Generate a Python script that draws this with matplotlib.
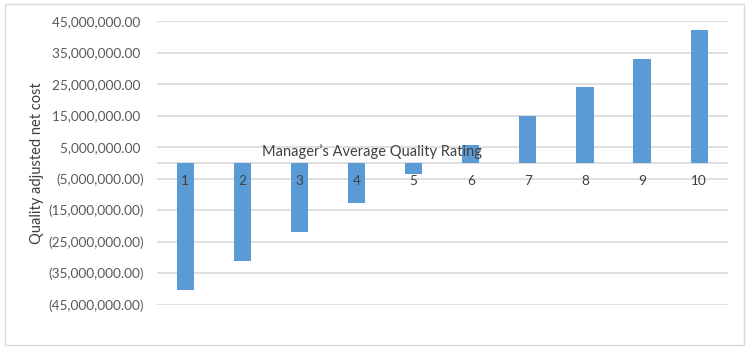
import matplotlib
matplotlib.use("Agg")
import matplotlib.pyplot as plt
from matplotlib.patches import Rectangle
from matplotlib.ticker import FuncFormatter

categories = ["1", "2", "3", "4", "5", "6", "7", "8", "9", "10"]
values = [-40.2e6, -31.1e6, -21.9e6, -12.7e6, -3.5e6, 5.7e6, 15.0e6, 24.0e6, 33.0e6, 42.3e6]
yticks = [-45e6, -35e6, -25e6, -15e6, -5e6, 5e6, 15e6, 25e6, 35e6, 45e6]
xlabel = "Manager\u2019s Average Quality Rating"
ylabel = "Quality adjusted net cost"

W, H = 750, 352
plt.rcParams['font.family'] = ['Lato', 'DejaVu Sans']
fig = plt.figure(figsize=(W / 100, H / 100), dpi=100)

def px(x, y):
    return x / W, 1 - y / H

left, top = px(156.7, 21)
right, bottom = px(727.7, 304.7)
ax = fig.add_axes([left, bottom, right - left, top - bottom])

xs = list(range(1, len(categories) + 1))
ax.bar(xs, values, width=0.30, color="#5B9BD5", zorder=3)

ax.set_xlim(0.5, len(categories) + 0.5)
ax.set_ylim(-45e6, 45e6)
ax.set_yticks(yticks)

def fmt(v, pos):
    if v < 0:
        return "({:,.2f})".format(-v)
    return "{:,.2f} ".format(v)

ax.yaxis.set_major_formatter(FuncFormatter(fmt))
ax.tick_params(axis='y', length=0, pad=9, labelsize=9.8, labelcolor="#595959")
ax.set_xticks([])
ax.grid(axis='y', color="#D9D9D9", lw=1.2, zorder=0)
ax.axhline(0, color="#D9D9D9", lw=1.2, zorder=1)
for s in ax.spines.values():
    s.set_visible(False)

for x, c in zip(xs, categories):
    ax.annotate(c, (x, 0), xytext=(0, -13.3), textcoords='offset points',
                ha='center', va='center', fontsize=9.8, color="#404040", zorder=5)

cx, cy = px(371.5, 152)
fig.text(cx, cy, xlabel, ha='center', va='center', fontsize=10.5, color="#404040", zorder=6)
lx, ly = px(37, 163)
fig.text(lx, ly, ylabel, ha='center', va='center', rotation=90, fontsize=10.5, color="#404040")

x0, y0 = px(5, 345)
x1, y1 = px(744.3, 4)
fig.patches.append(Rectangle((x0, y0), x1 - x0, y1 - y0, transform=fig.transFigure,
                             fill=False, edgecolor="#D9D9D9", lw=1))

fig.savefig("out.png", dpi=100)
